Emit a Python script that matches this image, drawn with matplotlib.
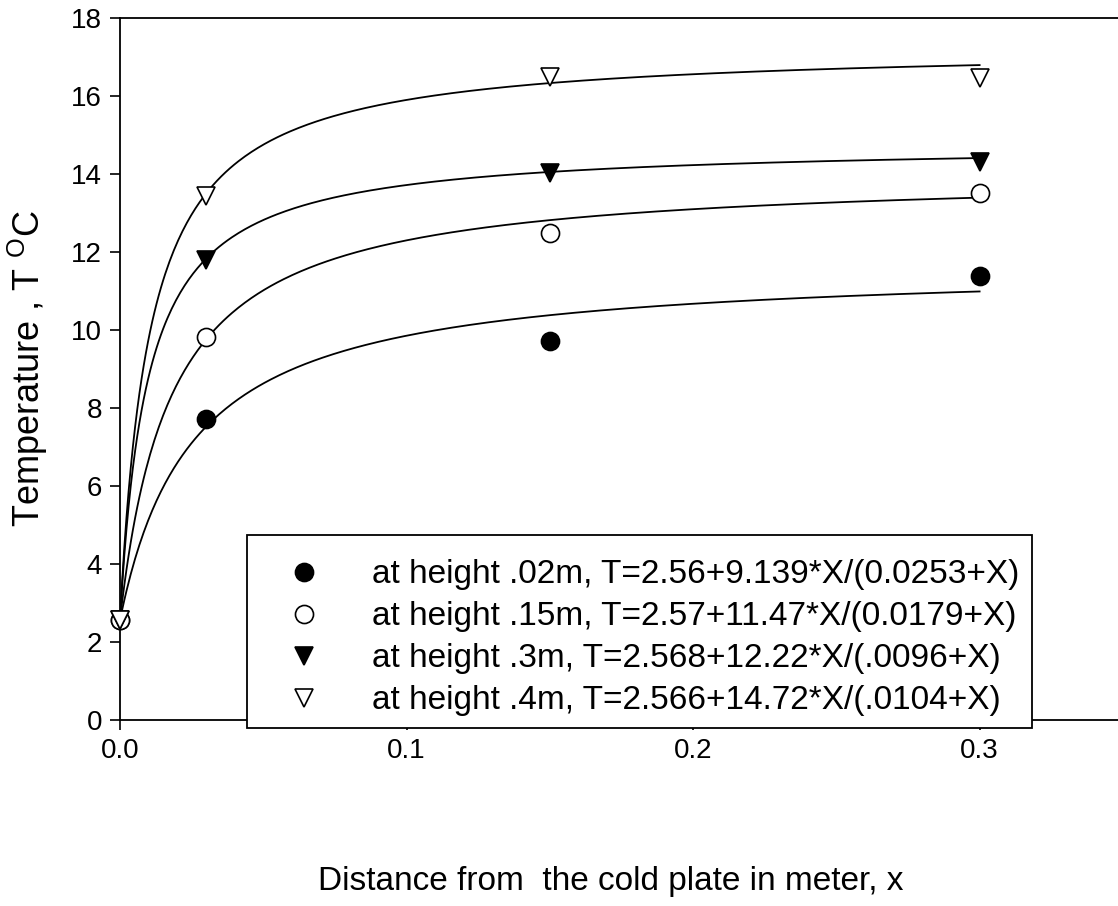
import numpy as np
import matplotlib.pyplot as plt
from matplotlib.patches import Rectangle

plt.rcParams['font.family'] = ['Liberation Sans', 'DejaVu Sans']

# measured points
x_pts = [0.0, 0.03, 0.15, 0.3]
t_02 = [2.56, 7.72, 9.72, 11.38]
t_15 = [2.57, 9.82, 12.49, 13.51]
t_30 = [2.57, 11.79, 14.03, 14.30]
t_40 = [2.57, 13.44, 16.50, 16.46]

# fit coefficients T = a + b*X/(c+X), as given in the legend
fit_a = [2.56, 2.57, 2.568, 2.566]
fit_b = [9.139, 11.47, 12.22, 14.72]
fit_c = [0.0253, 0.0179, 0.0096, 0.0104]

labels = ["at height .02m, T=2.56+9.139*X/(0.0253+X)",
          "at height .15m, T=2.57+11.47*X/(0.0179+X)",
          "at height .3m, T=2.568+12.22*X/(.0096+X)",
          "at height .4m, T=2.566+14.72*X/(.0104+X)"]
markers = ['o', 'o', 'v', 'v']
faces = ['black', 'white', 'black', 'white']
series = [t_02, t_15, t_30, t_40]

fig = plt.figure(figsize=(11.18, 9.06), dpi=100)
ax = fig.add_axes([120/1118, 186/906, 998/1118, 702/906])

xx = np.linspace(0, 0.3, 400)
for a, b, c in zip(fit_a, fit_b, fit_c):
    ax.plot(xx, a + b*xx/(c + xx), color='black', lw=1.3, zorder=2)

for t, m, fc, lab in zip(series, markers, faces, labels):
    ax.plot(x_pts, t, linestyle='none', marker=m, markersize=13,
            markerfacecolor=fc, markeredgecolor='black', markeredgewidth=1.2,
            label=lab, zorder=3, clip_on=False)

ax.set_xlim(0, 0.3483)
ax.set_ylim(0, 18)
ax.set_xticks([0.0, 0.1, 0.2, 0.3])
ax.set_xticklabels(["0.0", "0.1", "0.2", "0.3"])
ax.set_yticks(range(0, 19, 2))
ax.tick_params(direction='out', length=7, width=1.2, labelsize=20, pad=6)
ax.spines['right'].set_visible(False)
for s in ['left', 'bottom', 'top']:
    ax.spines[s].set_linewidth(1.3)

ax.set_ylabel("Temperature , T $^{\\mathregular{O}}$C", fontsize=26)
ax.yaxis.set_label_coords(-0.070, 0.5)
ax.set_xlabel("Distance from  the cold plate in meter, x", fontsize=24)
ax.xaxis.set_label_coords(0.492, -0.208)

# legend box (it overlaps the x axis line in the original)
ax.add_patch(Rectangle((0.1273, -0.0114), 0.7865, 0.2749, transform=ax.transAxes,
                       facecolor='white', edgecolor='black', lw=1.3,
                       clip_on=False, zorder=4))
leg = ax.legend(loc='upper left', bbox_to_anchor=(0.1263, 0.2621),
                fontsize=24, frameon=False, borderpad=0.70,
                labelspacing=0.33, handletextpad=0.97, handlelength=2.1,
                borderaxespad=0)
leg.set_zorder(5)

fig.savefig("out.png", dpi=100)
